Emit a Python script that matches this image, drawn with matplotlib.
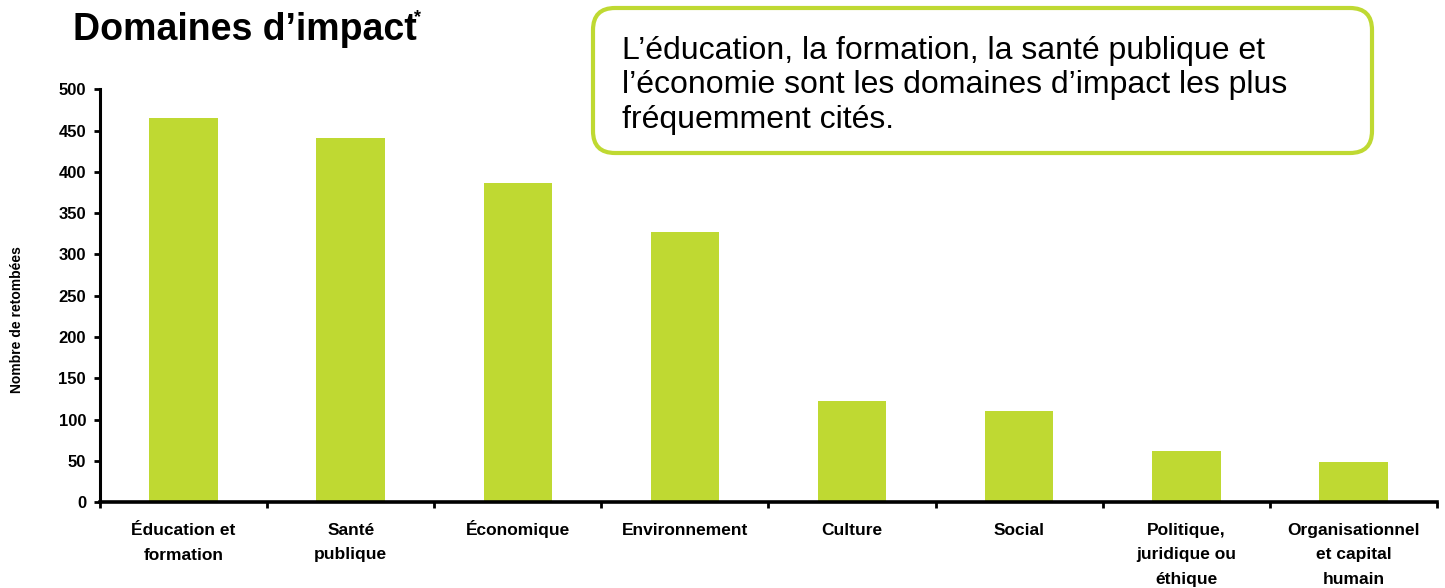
import matplotlib
matplotlib.use("Agg")
import matplotlib.pyplot as plt
from matplotlib import font_manager
from matplotlib.patches import FancyBboxPatch
from matplotlib.transforms import IdentityTransform, blended_transform_factory

categories = ["Éducation et\nformation", "Santé\npublique", "Économique", "Environnement",
              "Culture", "Social", "Politique,\njuridique ou\néthique",
              "Organisationnel\net capital\nhumain"]
values = [465, 441, 387, 327, 122, 110, 62, 48]
yticks = [0, 50, 100, 150, 200, 250, 300, 350, 400, 450, 500]

names = {f.name for f in font_manager.fontManager.ttflist}
narrow = "Liberation Sans Narrow" if "Liberation Sans Narrow" in names else "Liberation Sans"
regular = "Liberation Sans"

bar_color = "#BFD932"
W, H = 1445, 588

fig = plt.figure(figsize=(W/100, H/100), dpi=100)
ax = fig.add_axes([100/W, 1-502/H, (1437-100)/W, (502-89.5)/H])

x = list(range(len(categories)))
ax.bar(x, values, width=0.41, color=bar_color)
ax.set_xlim(-0.5, len(categories)-0.5)
ax.set_ylim(0, 500)
ax.set_yticks(yticks)
ax.set_yticklabels([str(v) for v in yticks], fontfamily=narrow, fontweight="bold", fontsize=12)
ax.set_xticks([i - 0.5 for i in range(len(categories)+1)])
ax.set_xticklabels([])
ax.tick_params(axis="x", which="major", length=4, width=2, direction="out")
ax.tick_params(axis="y", length=4, width=2, direction="out", pad=6)
for s in ["top", "right"]:
    ax.spines[s].set_visible(False)
ax.spines["left"].set_linewidth(2.2)
ax.spines["bottom"].set_linewidth(2.6)

# category labels, each line on its own baseline
tr = blended_transform_factory(ax.transData, fig.transFigure)
first_base, line_step = 535, 24.5
for xi, lab in zip(x, categories):
    for k, line in enumerate(lab.split("\n")):
        ax.text(xi, 1-(first_base + k*line_step)/H, line, transform=tr, ha="center",
                va="baseline", fontfamily=narrow, fontweight="bold", fontsize=12.5)

fig.text(17/W, 1-320/H, "Nombre de retombées", rotation=90, ha="center", va="center",
         fontfamily=narrow, fontweight="bold", fontsize=10)

fig.text(73/W, 1-40/H, "Domaines d’impact", fontfamily=regular, fontweight="bold",
         fontsize=27, ha="left", va="baseline")
fig.text(414/W, 1-9/H, "*", fontfamily=regular, fontweight="bold",
         fontsize=13, ha="left", va="top")

box = FancyBboxPatch((593, H-153), 1372-593, 153-8,
                     boxstyle="round,pad=0,rounding_size=22", transform=IdentityTransform(),
                     facecolor="white", edgecolor=bar_color, linewidth=3)
fig.patches.append(box)
fig.text(622/W, 1-128/H,
         "L’éducation, la formation, la santé publique et\nl’économie sont les domaines d’impact les plus\nfréquemment cités.",
         fontfamily=regular, fontsize=23, ha="left", va="baseline", linespacing=1.2)

fig.savefig("out.png", dpi=100)
